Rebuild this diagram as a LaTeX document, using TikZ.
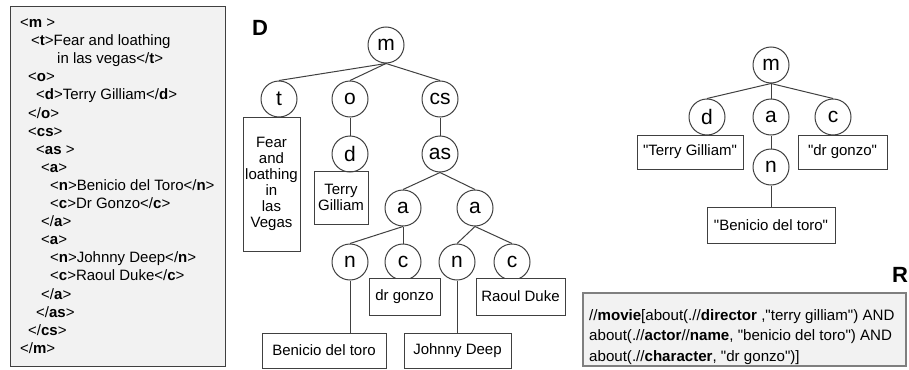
\documentclass[tikz,border=0pt]{standalone}
\usepackage{fontspec}
\setmainfont{Liberation Sans}[Ligatures=TeXOff]
\newcommand\xtag[1]{<\textbf{#1}>}
\newcommand\xetag[1]{</\textbf{#1}>}
\definecolor{linegray}{HTML}{404040}
\definecolor{panelfill}{HTML}{F2F2F2}
\definecolor{rborder}{HTML}{7F7F7F}
\begin{document}
\begin{tikzpicture}[x=1pt,y=-1pt,
  circ/.style={circle,draw=linegray,line width=1pt,minimum size=36pt,inner sep=0pt,fill=white,font=\fontsize{21}{21}\selectfont},
  lbl/.style={rectangle,draw=linegray,line width=0.9pt,inner sep=0pt,align=center,font=\fontsize{15}{16}\selectfont},
  edge/.style={draw=linegray,line width=1pt},
  ln/.style={anchor=west,inner sep=0pt,text height=10pt,text depth=3pt,font=\fontsize{15}{18}\selectfont},
  bigl/.style={inner sep=0pt,font=\fontsize{22}{22}\selectfont\bfseries}
]
\useasboundingbox (0,0) rectangle (909,369);

% ---------- left XML panel ----------
\node[draw=linegray,fill=panelfill,line width=1pt,minimum width=215pt,minimum height=359pt,inner sep=0pt] (panel) at (117.5,186.5) {};
\node[ln] (l1)  at (20,24)    {<\textbf{m} >};
\node[ln] (l2)  at (31,42.1)  {\xtag{t}Fear and loathing};
\node[ln] (l3)  at (57,60.2)  {in las vegas\xetag{t}};
\node[ln] (l4)  at (28,78.3)  {\xtag{o}};
\node[ln] (l5)  at (36,96.4)  {\xtag{d}Terry Gilliam\xetag{d}};
\node[ln] (l6)  at (28,114.5) {\xetag{o}};
\node[ln] (l7)  at (28,132.6) {\xtag{cs}};
\node[ln] (l8)  at (36,150.7) {<\textbf{as} >};
\node[ln] (l9)  at (41,168.8) {\xtag{a}};
\node[ln] (l10) at (50,186.9) {\xtag{n}Benicio del Toro\xetag{n}};
\node[ln] (l11) at (50,205.0) {\xtag{c}Dr Gonzo\xetag{c}};
\node[ln] (l12) at (41,223.1) {\xetag{a}};
\node[ln] (l13) at (41,241.2) {\xtag{a}};
\node[ln] (l14) at (50,259.3) {\xtag{n}Johnny Deep\xetag{n}};
\node[ln] (l15) at (50,277.4) {\xtag{c}Raoul Duke\xetag{c}};
\node[ln] (l16) at (41,295.5) {\xetag{a}};
\node[ln] (l17) at (36,313.6) {\xetag{as}};
\node[ln] (l18) at (28,331.7) {\xetag{cs}};
\node[ln] (l19) at (20,349.8) {\xetag{m}};

% ---------- tree D ----------
\node[bigl] (labD) at (260,28) {D};
\node[circ] (m)  at (386,45)  {m};
\node[circ] (t)  at (279,99)  {t};
\node[circ] (o)  at (350,99)  {o};
\node[circ] (cs) at (440,99)  {cs};
\node[circ] (d)  at (350,154) {d};
\node[circ] (as) at (440,154) {as};
\node[circ] (a1) at (403,208) {a};
\node[circ] (a2) at (475,208) {a};
\node[circ] (n1) at (350,262) {n};
\node[circ] (c1) at (403,262) {c};
\node[circ] (n2) at (457,262) {n};
\node[circ] (c2) at (512,262) {c};

\node[lbl,minimum width=57pt,minimum height=134pt] (fear) at (271.5,184) {Fear\\and\\loathing\\in\\las\\Vegas};
\node[lbl,minimum width=54pt,minimum height=53pt] (terry) at (341,197.5) {Terry\\Gilliam};
\node[lbl,minimum width=71pt,minimum height=37pt,fill=white] (gonzo) at (404.5,296.5) {dr gonzo};
\node[lbl,minimum width=89pt,minimum height=37pt,fill=white] (raoul) at (520.5,296.5) {Raoul Duke};
\node[lbl,minimum width=124pt,minimum height=35pt] (benicio) at (324,350.5) {Benicio del toro};
\node[lbl,minimum width=107pt,minimum height=35pt] (johnny) at (457.5,350.5) {Johnny Deep};

\draw[edge] (m.south) -- (t.north);
\draw[edge] (m.south) -- (o.north);
\draw[edge] (m.south) -- (cs.north);
\draw[edge] (o.south) -- (d.north);
\draw[edge] (cs.south) -- (as.north);
\draw[edge] (as.south) -- (a1.north);
\draw[edge] (as.south) -- (a2.north);
\draw[edge] (a1.south) -- (n1.north);
\draw[edge] (a1.south) -- (c1.north);
\draw[edge] (a2.south) -- (n2.north);
\draw[edge] (a2.south) -- (c2.north);
\draw[edge] (n1.south) -- (n1.south |- benicio.north);
\draw[edge] (n2.south) -- (n2.south |- johnny.north);

% ---------- tree on the right ----------
\node[circ] (rm) at (771,65)  {m};
\node[circ] (rd) at (707,117) {d};
\node[circ] (ra) at (771,117) {a};
\node[circ] (rc) at (833,117) {c};
\node[circ] (rn) at (771,167) {n};
\node[lbl,minimum width=106pt,minimum height=34pt] (rterry) at (690,152) {"Terry Gilliam"};
\node[lbl,minimum width=89pt,minimum height=34pt] (rgonzo) at (842.5,152) {"dr gonzo"};
\node[lbl,minimum width=128pt,minimum height=36pt] (rbenicio) at (771,225) {"Benicio del toro"};
\draw[edge] (rm.south) -- (rd.north);
\draw[edge] (rm.south) -- (ra.north);
\draw[edge] (rm.south) -- (rc.north);
\draw[edge] (ra.south) -- (rn.north);
\draw[edge] (rn.south) -- (rbenicio.north);

% ---------- query R ----------
\node[bigl] (labR) at (900,275) {R};
\node[draw=rborder,fill=panelfill,line width=1.5pt,minimum width=323pt,minimum height=73pt,inner sep=0pt] (rbox) at (744.5,329.5) {};
\node[anchor=west,inner sep=0pt,align=left,font=\fontsize{15.1}{20.5}\selectfont] (query) at (589,337) {//\textbf{movie}[about(.//\textbf{director} ,"terry gilliam") AND\\
about(.//\textbf{actor}//\textbf{name}, "benicio del toro") AND\\
about(.//\textbf{character}, "dr gonzo")]};
\end{tikzpicture}
\end{document}
